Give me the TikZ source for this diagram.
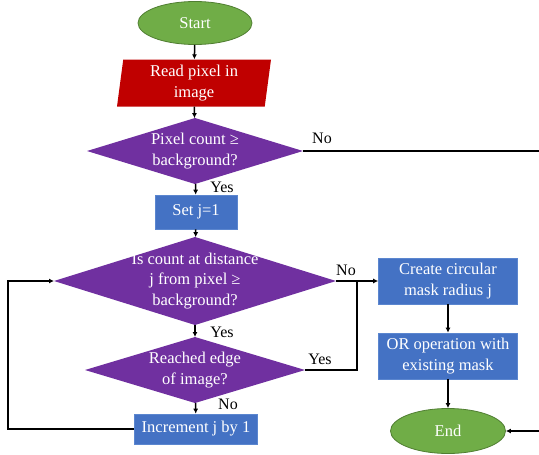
\documentclass[tikz,border=0pt]{standalone}
\usepackage{fontspec}
\setmainfont{Liberation Serif}
\usetikzlibrary{arrows.meta,shapes.geometric}
\definecolor{gruen}{HTML}{70AD47}
\definecolor{gruend}{HTML}{507E32}
\definecolor{rot}{HTML}{C00000}
\definecolor{lila}{HTML}{7030A0}
\definecolor{blau}{HTML}{4472C4}
\definecolor{blaud}{HTML}{5B86CF}
\tikzset{
  term/.style={ellipse,fill=gruen,draw=gruend,line width=0.8pt,text=white,inner sep=0pt,
    font=\fontsize{16.5}{20.5}\selectfont},
  lesen/.style={trapezium,trapezium left angle=80,trapezium right angle=100,
    trapezium stretches body,fill=rot,text=white,inner sep=0pt,align=center,
    font=\fontsize{16.5}{20.5}\selectfont},
  frage/.style={diamond,fill=lila,inner sep=0pt,outer sep=0pt},
  fragetext/.style={text=white,align=center,inner sep=0pt,
    font=\fontsize{16.5}{20.5}\selectfont},
  kasten/.style={rectangle,fill=blau,draw=blaud,line width=0.6pt,text=white,inner sep=0pt,
    align=center,font=\fontsize{16.5}{20.5}\selectfont},
  pfeil/.style={-{Latex[length=5pt,width=5pt]},black,line width=1.5pt},
  linie/.style={black,line width=1.5pt},
  lbl/.style={black,inner sep=0pt,font=\fontsize{16}{19}\selectfont},
}
\begin{document}
\begin{tikzpicture}[x=1pt,y=-1pt]
  \useasboundingbox (0,0) rectangle (539,455);
  % linke Spalte
  \node[term,minimum width=114pt,minimum height=43pt] (start) at (195,23) {Start};
  \node[lesen,minimum width=154pt,minimum height=47pt] (read) at (194,83) {Read pixel in\\image};
  \node[frage,minimum width=216pt,minimum height=66pt,
    label={[fragetext]center:{Pixel count \char"2265\\background?}}] (d1) at (195,151) {};
  \node[kasten,minimum width=82pt,minimum height=34pt] (setj) at (196,212) {Set j=1};
  \node[frage,minimum width=282pt,minimum height=88pt,
    label={[fragetext]center:{Is count at distance\\j from pixel \char"2265\\background?}}] (d2) at (195,281) {};
  \node[frage,minimum width=220pt,minimum height=66pt,
    label={[fragetext]center:{Reached edge\\of image?}}] (d3) at (195,370) {};
  \node[kasten,minimum width=123pt,minimum height=30pt] (inc) at (196,429) {Increment j by 1};
  % rechte Spalte
  \node[kasten,minimum width=139pt,minimum height=46pt] (mask) at (448,281) {Create circular\\mask radius j};
  \node[kasten,minimum width=139pt,minimum height=46pt] (orop) at (448,356) {OR operation with\\existing mask};
  \node[term,minimum width=115pt,minimum height=45pt] (end) at (448,431) {End};
  % Hilfspunkte
  \coordinate (jn) at (357,281);
  \coordinate (lp) at (8,281);
  \coordinate (rt) at (560,151);
  % Verbindungen
  \draw[pfeil] (start) -- (read);
  \draw[pfeil] (read) -- (d1);
  \draw[pfeil] (d1) -- (setj);
  \draw[pfeil] (setj) -- (d2);
  \draw[pfeil] (d2) -- (d3);
  \draw[pfeil] (d3) -- (inc);
  \draw[pfeil] (d2.east) -- (mask.west);
  \draw[linie] (d3.east) -| (jn);
  \draw[pfeil] (mask) -- (orop);
  \draw[pfeil] (orop) -- (end);
  \draw[pfeil] (inc.west) -| (lp) -- (d2.west);
  \draw[pfeil] (d1.east) -- (rt) |- (end.east);
  % Beschriftungen
  \node[lbl] (no1) at (322,138) {No};
  \node[lbl] (yes1) at (222,187) {Yes};
  \node[lbl] (no2) at (346,270) {No};
  \node[lbl] (yes2) at (320,359) {Yes};
  \node[lbl] (yes3) at (222,332) {Yes};
  \node[lbl] (no3) at (228,404) {No};
\end{tikzpicture}
\end{document}
